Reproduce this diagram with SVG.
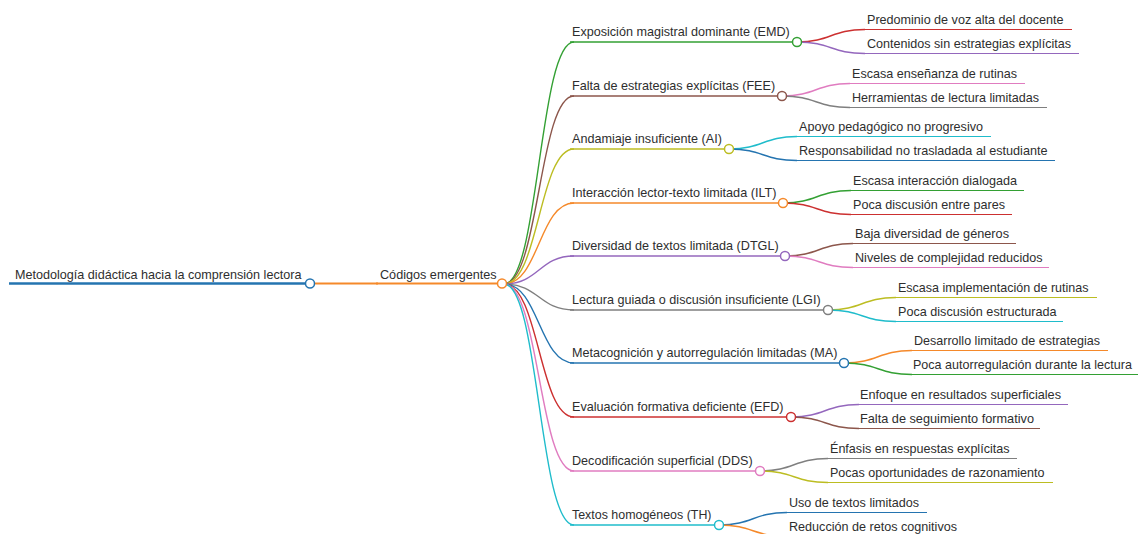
<svg xmlns="http://www.w3.org/2000/svg" width="1138" height="534" viewBox="0 0 1138 534">
  <style>
    .t { font-family: "Liberation Sans", Arial, Helvetica, sans-serif; font-size: 13.4px; fill: #2e2e2e; }
    .link { fill: none; stroke-width: 1.4; }
    .line { fill: none; stroke-linecap: butt; }
    .d0 { stroke-width: 2.7; }
    .d1 { stroke-width: 2; }
    .d2 { stroke-width: 1.5; }
    .d3 { stroke-width: 1.2; }
    .dot { fill: #ffffff; stroke-width: 1.5; }
    .blue { stroke: #2474b0; }
    .orange { stroke: #f5892a; }
    .green { stroke: #33a033; }
    .red { stroke: #cc3030; }
    .purple { stroke: #9467bd; }
    .brown { stroke: #8c564b; }
    .pink { stroke: #e07cc0; }
    .gray { stroke: #7f7f7f; }
    .olive { stroke: #bcbd22; }
    .cyan { stroke: #1fbccb; }
  </style>

  <!-- connectors: curved links between parent dots and child underlines -->
  <g id="connectors">
    <path class="link d1 orange" d="M310,283.5 L378,283.5"/>

    <path class="link green"  d="M504,284 C539,284 539,42 574,42"/>
    <path class="link brown"  d="M504,284 C539,284 539,96 574,96"/>
    <path class="link olive"  d="M504,284 C539,284 539,149 574,149"/>
    <path class="link orange" d="M504,284 C539,284 539,203 574,203"/>
    <path class="link purple" d="M504,284 C539,284 539,256 574,256"/>
    <path class="link gray"   d="M504,284 C539,284 539,310 574,310"/>
    <path class="link blue"   d="M504,284 C539,284 539,363 574,363"/>
    <path class="link red"    d="M504,284 C539,284 539,417 574,417"/>
    <path class="link pink"   d="M504,284 C539,284 539,471 574,471"/>
    <path class="link cyan"   d="M504,284 C539,284 539,525 574,525"/>

    <path class="link red"    d="M797,42 C831,42 831,29.5 865,29.5"/>
    <path class="link purple" d="M797,42 C831,42 831,53.5 865,53.5"/>
    <path class="link pink"   d="M782,96 C816,96 816,83.5 850,83.5"/>
    <path class="link gray"   d="M782,96 C816,96 816,107.5 850,107.5"/>
    <path class="link cyan"   d="M729,149 C763,149 763,136.5 797,136.5"/>
    <path class="link blue"   d="M729,149 C763,149 763,160.5 797,160.5"/>
    <path class="link green"  d="M783,203 C817,203 817,190.5 851,190.5"/>
    <path class="link red"    d="M783,203 C817,203 817,214.5 851,214.5"/>
    <path class="link brown"  d="M785,256 C819,256 819,243.5 853,243.5"/>
    <path class="link pink"   d="M785,256 C819,256 819,267.5 853,267.5"/>
    <path class="link olive"  d="M828,310 C862,310 862,297.5 896,297.5"/>
    <path class="link cyan"   d="M828,310 C862,310 862,321.5 896,321.5"/>
    <path class="link orange" d="M844,363 C878,363 878,350.5 912,350.5"/>
    <path class="link green"  d="M844,363 C878,363 878,374.5 912,374.5"/>
    <path class="link purple" d="M791,417 C825,417 825,404.5 859,404.5"/>
    <path class="link brown"  d="M791,417 C825,417 825,428.5 859,428.5"/>
    <path class="link gray"   d="M760,471 C794,471 794,458.5 828,458.5"/>
    <path class="link olive"  d="M760,471 C794,471 794,482.5 828,482.5"/>
    <path class="link blue"   d="M719,525 C753,525 753,512.5 787,512.5"/>
    <path class="link orange" d="M719,525 C753,525 753,536.5 787,536.5"/>
  </g>

  <!-- root -->
  <g id="root">
    <path class="line d0 blue" d="M9,283.5 H310"/>
    <text class="t" x="15" y="279" textLength="286.4" lengthAdjust="spacingAndGlyphs">Metodología didáctica hacia la comprensión lectora</text>
    <circle class="dot blue" cx="310" cy="283.5" r="4.5"/>
  </g>

  <!-- level 1 -->
  <g id="codigos">
    <path class="line d1 orange" d="M376,283.5 H502"/>
    <text class="t" x="380" y="279" textLength="116.6" lengthAdjust="spacingAndGlyphs">Códigos emergentes</text>
    <circle class="dot orange" cx="502" cy="283.5" r="4.5"/>
  </g>

  <!-- level 2 categories -->
  <g id="emd">
    <path class="line d2 green" d="M570,42 H797"/>
    <text class="t" x="572" y="36" textLength="217.8" lengthAdjust="spacingAndGlyphs">Exposición magistral dominante (EMD)</text>
    <circle class="dot green" cx="797" cy="42" r="4.5"/>
  </g>
  <g id="fee">
    <path class="line d2 brown" d="M570,96 H782"/>
    <text class="t" x="572" y="90" textLength="203.1" lengthAdjust="spacingAndGlyphs">Falta de estrategias explícitas (FEE)</text>
    <circle class="dot brown" cx="782" cy="96" r="4.5"/>
  </g>
  <g id="ai">
    <path class="line d2 olive" d="M570,149 H729"/>
    <text class="t" x="572" y="143" textLength="149.9" lengthAdjust="spacingAndGlyphs">Andamiaje insuficiente (AI)</text>
    <circle class="dot olive" cx="729" cy="149" r="4.5"/>
  </g>
  <g id="ilt">
    <path class="line d2 orange" d="M570,203 H783"/>
    <text class="t" x="572" y="197" textLength="204.5" lengthAdjust="spacingAndGlyphs">Interacción lector-texto limitada (ILT)</text>
    <circle class="dot orange" cx="783" cy="203" r="4.5"/>
  </g>
  <g id="dtgl">
    <path class="line d2 purple" d="M570,256 H785"/>
    <text class="t" x="572" y="250" textLength="206.6" lengthAdjust="spacingAndGlyphs">Diversidad de textos limitada (DTGL)</text>
    <circle class="dot purple" cx="785" cy="256" r="4.5"/>
  </g>
  <g id="lgi">
    <path class="line d2 gray" d="M570,310 H828"/>
    <text class="t" x="572" y="304" textLength="248.6" lengthAdjust="spacingAndGlyphs">Lectura guiada o discusión insuficiente (LGI)</text>
    <circle class="dot gray" cx="828" cy="310" r="4.5"/>
  </g>
  <g id="ma">
    <path class="line d2 blue" d="M570,363 H844"/>
    <text class="t" x="572" y="357" textLength="265.4" lengthAdjust="spacingAndGlyphs">Metacognición y autorregulación limitadas (MA)</text>
    <circle class="dot blue" cx="844" cy="363" r="4.5"/>
  </g>
  <g id="efd">
    <path class="line d2 red" d="M570,417 H791"/>
    <text class="t" x="572" y="411" textLength="211.5" lengthAdjust="spacingAndGlyphs">Evaluación formativa deficiente (EFD)</text>
    <circle class="dot red" cx="791" cy="417" r="4.5"/>
  </g>
  <g id="dds">
    <path class="line d2 pink" d="M570,471 H760"/>
    <text class="t" x="572" y="465" textLength="180.6" lengthAdjust="spacingAndGlyphs">Decodificación superficial (DDS)</text>
    <circle class="dot pink" cx="760" cy="471" r="4.5"/>
  </g>
  <g id="th">
    <path class="line d2 cyan" d="M570,525 H719"/>
    <text class="t" x="572" y="519" textLength="139.5" lengthAdjust="spacingAndGlyphs">Textos homogéneos (TH)</text>
    <circle class="dot cyan" cx="719" cy="525" r="4.5"/>
  </g>

  <!-- level 3 leaves -->
  <g id="emd-1">
    <path class="line d3 red" d="M863,29.5 H1072"/>
    <text class="t" x="867" y="23.5" textLength="196.5" lengthAdjust="spacingAndGlyphs">Predominio de voz alta del docente</text>
  </g>
  <g id="emd-2">
    <path class="line d3 purple" d="M863,53.5 H1079"/>
    <text class="t" x="867" y="47.5" textLength="204" lengthAdjust="spacingAndGlyphs">Contenidos sin estrategias explícitas</text>
  </g>
  <g id="fee-1">
    <path class="line d3 pink" d="M848,83.5 H1025"/>
    <text class="t" x="852" y="77.5" textLength="165" lengthAdjust="spacingAndGlyphs">Escasa enseñanza de rutinas</text>
  </g>
  <g id="fee-2">
    <path class="line d3 gray" d="M848,107.5 H1047"/>
    <text class="t" x="852" y="101.5" textLength="187" lengthAdjust="spacingAndGlyphs">Herramientas de lectura limitadas</text>
  </g>
  <g id="ai-1">
    <path class="line d3 cyan" d="M795,136.5 H991"/>
    <text class="t" x="799" y="130.5" textLength="184" lengthAdjust="spacingAndGlyphs">Apoyo pedagógico no progresivo</text>
  </g>
  <g id="ai-2">
    <path class="line d3 blue" d="M795,160.5 H1055"/>
    <text class="t" x="799" y="154.5" textLength="248.5" lengthAdjust="spacingAndGlyphs">Responsabilidad no trasladada al estudiante</text>
  </g>
  <g id="ilt-1">
    <path class="line d3 green" d="M849,190.5 H1024"/>
    <text class="t" x="853" y="184.5" textLength="164" lengthAdjust="spacingAndGlyphs">Escasa interacción dialogada</text>
  </g>
  <g id="ilt-2">
    <path class="line d3 red" d="M849,214.5 H1012"/>
    <text class="t" x="853" y="208.5" textLength="152" lengthAdjust="spacingAndGlyphs">Poca discusión entre pares</text>
  </g>
  <g id="dtgl-1">
    <path class="line d3 brown" d="M851,243.5 H1016"/>
    <text class="t" x="855" y="237.5" textLength="154" lengthAdjust="spacingAndGlyphs">Baja diversidad de géneros</text>
  </g>
  <g id="dtgl-2">
    <path class="line d3 pink" d="M851,267.5 H1049"/>
    <text class="t" x="855" y="261.5" textLength="187.5" lengthAdjust="spacingAndGlyphs">Niveles de complejidad reducidos</text>
  </g>
  <g id="lgi-1">
    <path class="line d3 olive" d="M894,297.5 H1097"/>
    <text class="t" x="898" y="291.5" textLength="190.5" lengthAdjust="spacingAndGlyphs">Escasa implementación de rutinas</text>
  </g>
  <g id="lgi-2">
    <path class="line d3 cyan" d="M894,321.5 H1063"/>
    <text class="t" x="898" y="315.5" textLength="158.5" lengthAdjust="spacingAndGlyphs">Poca discusión estructurada</text>
  </g>
  <g id="ma-1">
    <path class="line d3 orange" d="M910,350.5 H1108"/>
    <text class="t" x="914" y="344.5" textLength="186" lengthAdjust="spacingAndGlyphs">Desarrollo limitado de estrategias</text>
  </g>
  <g id="ma-2">
    <path class="line d3 green" d="M910,374.5 H1138"/>
    <text class="t" x="913" y="368.5" textLength="219" lengthAdjust="spacingAndGlyphs">Poca autorregulación durante la lectura</text>
  </g>
  <g id="efd-1">
    <path class="line d3 purple" d="M857,404.5 H1068"/>
    <text class="t" x="860" y="398.5" textLength="201" lengthAdjust="spacingAndGlyphs">Enfoque en resultados superficiales</text>
  </g>
  <g id="efd-2">
    <path class="line d3 brown" d="M857,428.5 H1040"/>
    <text class="t" x="860" y="422.5" textLength="174" lengthAdjust="spacingAndGlyphs">Falta de seguimiento formativo</text>
  </g>
  <g id="dds-1">
    <path class="line d3 gray" d="M826,458.5 H1017"/>
    <text class="t" x="830" y="452.5" textLength="179.5" lengthAdjust="spacingAndGlyphs">Énfasis en respuestas explícitas</text>
  </g>
  <g id="dds-2">
    <path class="line d3 olive" d="M826,482.5 H1053"/>
    <text class="t" x="830" y="476.5" textLength="214.5" lengthAdjust="spacingAndGlyphs">Pocas oportunidades de razonamiento</text>
  </g>
  <g id="th-1">
    <path class="line d3 blue" d="M785,512.5 H927"/>
    <text class="t" x="789" y="506.5" textLength="130" lengthAdjust="spacingAndGlyphs">Uso de textos limitados</text>
  </g>
  <g id="th-2">
    <path class="line d3 orange" d="M785,536.5 H966"/>
    <text class="t" x="789" y="530.5" textLength="168" lengthAdjust="spacingAndGlyphs">Reducción de retos cognitivos</text>
  </g>
</svg>
